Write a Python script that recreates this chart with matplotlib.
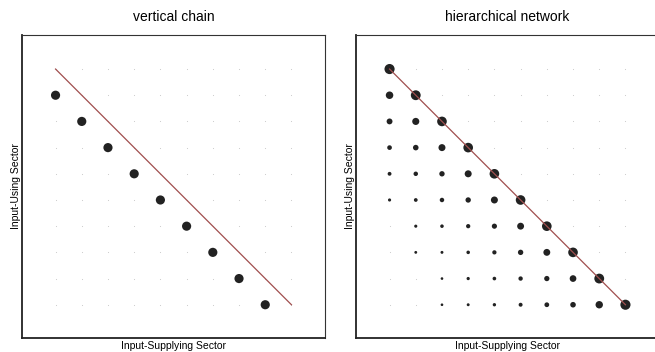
import numpy as np
import matplotlib.pyplot as plt

plt.rcParams['font.family'] = ['Liberation Sans', 'DejaVu Sans']

## Grid of sectors (1 = top row / left column)
n_sectors = 10
titles = ["vertical chain", "hierarchical network"]

# vertical chain: sector j supplies sector j+1
chain_supplier = [1, 2, 3, 4, 5, 6, 7, 8, 9]
chain_user = [2, 3, 4, 5, 6, 7, 8, 9, 10]
chain_weight = [1.0] * 9

# hierarchical network: relative input weight, rows = using sector, cols = supplying sector
hier_weight = [
    [1.00, 0, 0, 0, 0, 0, 0, 0, 0, 0],
    [0.74, 0.97, 0, 0, 0, 0, 0, 0, 0, 0],
    [0.58, 0.70, 0.95, 0, 0, 0, 0, 0, 0, 0],
    [0.46, 0.55, 0.69, 0.95, 0, 0, 0, 0, 0, 0],
    [0.38, 0.44, 0.53, 0.69, 0.95, 0, 0, 0, 0, 0],
    [0.31, 0.37, 0.44, 0.53, 0.69, 0.95, 0, 0, 0, 0],
    [0, 0.31, 0.35, 0.42, 0.51, 0.68, 0.95, 0, 0, 0],
    [0, 0.28, 0.29, 0.35, 0.42, 0.53, 0.68, 0.95, 0, 0],
    [0, 0, 0.26, 0.32, 0.36, 0.43, 0.52, 0.66, 0.97, 0],
    [0, 0, 0.26, 0.29, 0.33, 0.39, 0.47, 0.55, 0.73, 1.00],
]

fig = plt.figure(figsize=(6.55, 3.52), dpi=100)
ax1 = fig.add_axes([22 / 655, 14 / 352, 303 / 655, 303 / 352])
ax2 = fig.add_axes([356 / 655, 14 / 352, 303 / 655, 303 / 352])

max_d = 7.3  # marker diameter in points for weight 1
line_col = "#a04e4e"

gx, gy = np.meshgrid(np.arange(1, n_sectors + 1), np.arange(1, n_sectors + 1))

for ax, title in zip([ax1, ax2], titles):
    ax.scatter(gx.ravel(), gy.ravel(), s=0.6, color="#c8c8c8", lw=0, zorder=1)
    ax.plot([1, n_sectors], [1, n_sectors], color=line_col, lw=0.9, zorder=3)
    ax.set_xlim(1 - 1.28, n_sectors + 1.28)
    ax.set_ylim(n_sectors + 1.27, 1 - 1.3)
    ax.set_xticks([])
    ax.set_yticks([])
    ax.set_title(title, fontsize=10, pad=10)
    ax.set_xlabel("Input-Supplying Sector", fontsize=7.5, labelpad=2)
    ax.set_ylabel("Input-Using Sector", fontsize=7.5, labelpad=1)
    for side in ["left", "bottom"]:
        ax.spines[side].set_linewidth(1.3)
        ax.spines[side].set_color("#222222")
    for side in ["top", "right"]:
        ax.spines[side].set_linewidth(0.8)
        ax.spines[side].set_color("#333333")

# left panel
ax1.scatter(chain_supplier, chain_user, s=(np.array(chain_weight) * 6.6) ** 2,
            color="#222222", lw=0, zorder=2)

# right panel
w = np.array(hier_weight)
rows, cols = np.nonzero(w)
ax2.scatter(cols + 1, rows + 1, s=(w[rows, cols] * max_d) ** 2,
            color="#222222", lw=0, zorder=2)

fig.savefig("out.png", dpi=100)
